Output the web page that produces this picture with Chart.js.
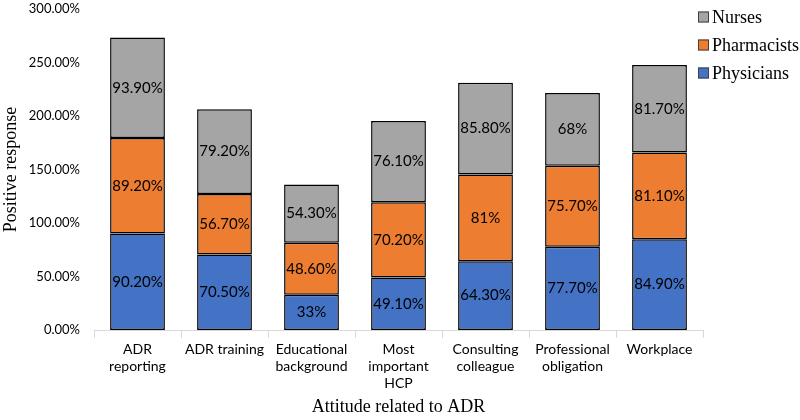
<!DOCTYPE html>
<html>
<head>
<meta charset="utf-8">
<script src="https://cdn.jsdelivr.net/npm/chart.js@4"></script>
<style>
  html, body { margin: 0; padding: 0; background: #fff; }
  #wrap { width: 800px; height: 420px; }
</style>
</head>
<body>
<div id="wrap"><canvas id="myChart"></canvas></div>
<script>
const categories = [
  ["ADR", "reporting"],
  ["ADR training"],
  ["Educational", "background"],
  ["Most", "important", "HCP"],
  ["Consulting", "colleague"],
  ["Professional", "obligation"],
  ["Workplace"],
];
const physicians = [90.2, 70.5, 33, 49.1, 64.3, 77.7, 84.9];
const pharmacists = [89.2, 56.7, 48.6, 70.2, 81, 75.7, 81.1];
const nurses = [93.9, 79.2, 54.3, 76.1, 85.8, 68, 81.7];
const yTicks = [0, 50, 100, 150, 200, 250, 300];

const colors = ["#4472C4", "#ED7D31", "#A5A5A5"];
const tickFont = { family: "Lato", size: 14 };
const serifFont = { family: "Liberation Serif", size: 18 };

const fmt = (v) => (Number.isInteger(v) ? v + "%" : v.toFixed(2) + "%");

// Value labels in the middle of each segment
const barLabels = {
  id: "barLabels",
  afterDatasetsDraw(chart) {
    const ctx = chart.ctx;
    ctx.save();
    ctx.font = "15px Lato";
    ctx.fillStyle = "#000";
    ctx.textAlign = "center";
    ctx.textBaseline = "middle";
    chart.data.datasets.forEach((ds, i) => {
      chart.getDatasetMeta(i).data.forEach((bar, j) => {
        const mid = (bar.y + bar.base) / 2;
        ctx.fillText(fmt(ds.data[j]), bar.x, mid);
      });
    });
    ctx.restore();
  },
};

// Legend in the top right corner, Nurses first
const cornerLegend = {
  id: "cornerLegend",
  afterDraw(chart) {
    const ctx = chart.ctx;
    const x = 698;
    ctx.save();
    ctx.font = "18px 'Liberation Serif'";
    ctx.textBaseline = "middle";
    ctx.textAlign = "left";
    chart.data.datasets
      .slice()
      .reverse()
      .forEach((ds, i) => {
        const y = 17 + i * 28;
        ctx.fillStyle = ds.backgroundColor;
        ctx.fillRect(x, y - 5.5, 11, 11);
        ctx.strokeStyle = "#404040";
        ctx.lineWidth = 1;
        ctx.strokeRect(x + 0.5, y - 5, 10, 10);
        ctx.fillStyle = "#000";
        ctx.fillText(ds.label, x + 14, y + 1);
      });
    ctx.restore();
  },
};

new Chart(document.getElementById("myChart"), {
  type: "bar",
  data: {
    labels: categories,
    datasets: [
      { label: "Physicians", data: physicians, backgroundColor: colors[0] },
      { label: "Pharmacists", data: pharmacists, backgroundColor: colors[1] },
      { label: "Nurses", data: nurses, backgroundColor: colors[2] },
    ].map((d) => ({
      ...d,
      borderColor: "#000",
      borderWidth: 1.5,
      borderSkipped: false,
      categoryPercentage: 1,
      barPercentage: 0.63,
    })),
  },
  plugins: [barLabels, cornerLegend],
  options: {
    responsive: true,
    maintainAspectRatio: false,
    animation: false,
    layout: { padding: { top: 9, right: 97, left: 0, bottom: 2 } },
    plugins: {
      legend: { display: false },
      tooltip: { enabled: false },
    },
    scales: {
      x: {
        stacked: true,
        offset: true,
        grid: {
          offset: true,
          drawOnChartArea: false,
          color: "#d9d9d9",
          tickLength: 8,
        },
        border: { color: "#d9d9d9" },
        ticks: { font: tickFont, color: "#000", maxRotation: 0, autoSkip: false },
        title: {
          display: true,
          text: "Attitude related to ADR",
          font: serifFont,
          color: "#000",
          padding: { top: 2, bottom: 0 },
        },
      },
      y: {
        stacked: true,
        min: 0,
        max: 300,
        afterBuildTicks: (axis) => {
          axis.ticks = yTicks.map((v) => ({ value: v }));
        },
        afterFit: (axis) => {
          axis.paddingTop = 0;
          axis.width = 94;
        },
        grid: { display: false, drawTicks: false },
        border: { display: false },
        ticks: {
          font: { family: "Lato", size: 13 },
          color: "#000",
          padding: 14,
          callback: (v) => v.toFixed(2) + "%",
        },
        title: {
          display: true,
          text: "Positive response",
          font: serifFont,
          color: "#000",
          padding: { top: 0, bottom: 0 },
        },
      },
    },
  },
});
</script>
</body>
</html>
